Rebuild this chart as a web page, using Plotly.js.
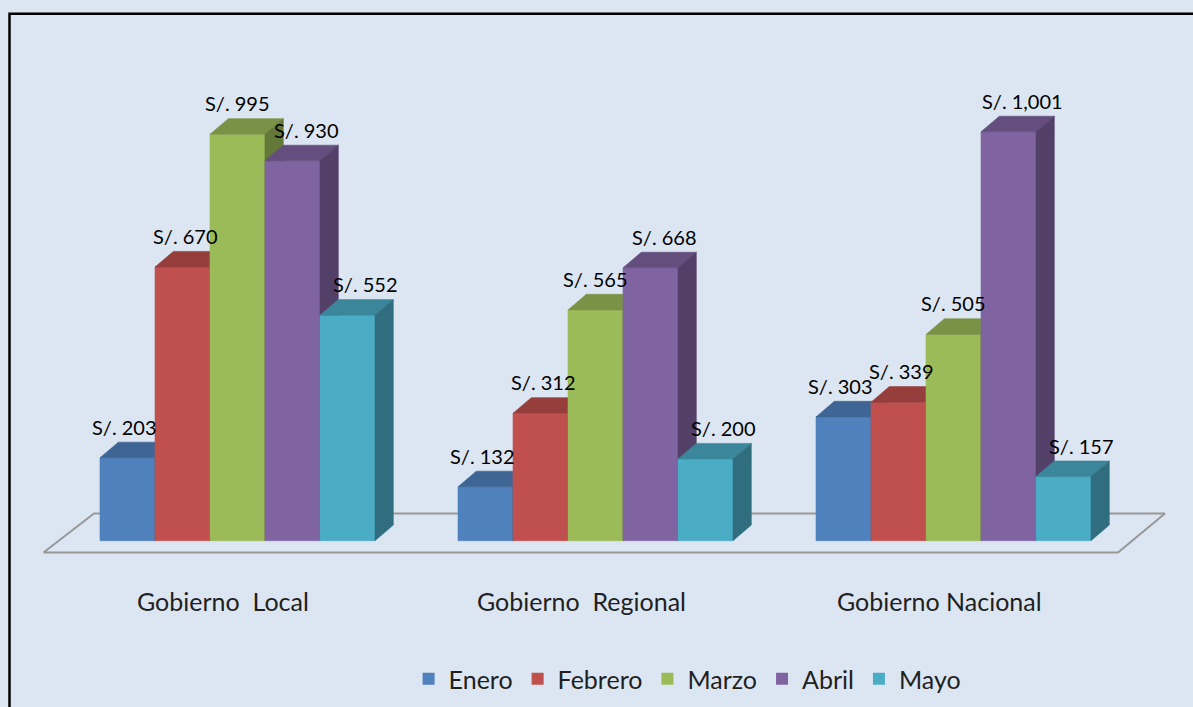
<!DOCTYPE html>
<html>
<head>
<meta charset="utf-8">
<script src="https://cdn.plot.ly/plotly-3.0.1.min.js"></script>
<style>html,body{margin:0;padding:0;background:#DCE6F2;}#chart{width:1193px;height:707px;}</style>
</head>
<body>
<div id="chart"></div>
<script>
// ---- data ----
const categories = ["Gobierno  Local", "Gobierno  Regional", "Gobierno Nacional"];
const months = ["Enero", "Febrero", "Marzo", "Abril", "Mayo"];
const enero   = [203, 132, 303];
const febrero = [670, 312, 339];
const marzo   = [995, 565, 505];
const abril   = [930, 668, 1001];
const mayo    = [552, 200, 157];
const series = [enero, febrero, marzo, abril, mayo];

// ---- style ----
const colors = ["#4F81BD", "#C0504D", "#9BBB59", "#8064A2", "#4BACC6"];
const W = 1193, H = 707;
const pxPerCat = 358;          // px between category centres
const pxPerVal = 0.4085;       // px per value unit
const x0px = 237.5, y0px = 540.7;
const xr = [-x0px / pxPerCat, (W - x0px) / pxPerCat];
const yr = [(y0px - H) / pxPerVal, y0px / pxPerVal];
const barW = 55 / pxPerCat;
const DX = 18.3 / pxPerCat, DY = 15.6 / pxPerVal;
const labelShiftPx = [-3, 3, 0, 14, 18];
const labelRisePx = 31;

function shade(hex, f) {
  const n = parseInt(hex.slice(1), 16);
  const r = Math.round(((n >> 16) & 255) * f), g = Math.round(((n >> 8) & 255) * f), b = Math.round((n & 255) * f);
  return `rgb(${r},${g},${b})`;
}
function fmt(v) { return "S/. " + String(v).replace(/\B(?=(\d{3})+(?!\d))/g, ","); }

const traces = [];
const annotations = [];

// floor (drawn first)
const pyToV = py => (y0px - py) / pxPerVal;
const pxToX = px => (px - x0px) / pxPerCat;
traces.push({
  type: "scatter", mode: "lines", hoverinfo: "skip", showlegend: false,
  x: [pxToX(43.5), pxToX(1118), pxToX(1165), pxToX(94), pxToX(43.5)],
  y: [pyToV(552.5), pyToV(552.5), pyToV(513.5), pyToV(513.5), pyToV(552.5)],
  line: { color: "#989898", width: 2 }
});

function poly(xs, ys, color) {
  traces.push({
    type: "scatter", mode: "lines", fill: "toself", fillcolor: color,
    line: { color: color, width: 0.6 }, hoverinfo: "skip", showlegend: false,
    x: xs.concat([xs[0]]), y: ys.concat([ys[0]])
  });
}

categories.forEach((cat, i) => {
  series.forEach((vals, j) => {
    const v = vals[i];
    const a = i - 2.5 * barW + j * barW, b = a + barW;
    const c = colors[j];
    poly([a, b, b, a], [0, 0, v, v], c);                                   // front
    poly([a, a + DX, b + DX, b], [v, v + DY, v + DY, v], shade(c, 0.78));  // top
    poly([b, b, b + DX, b + DX], [0, v, v + DY, DY], shade(c, 0.64));      // side
    annotations.push({
      x: (a + b) / 2 + labelShiftPx[j] / pxPerCat, y: v + labelRisePx / pxPerVal,
      text: fmt(v), showarrow: false, xanchor: "center", yanchor: "middle",
      font: { family: "Lato, sans-serif", size: 20, color: "#000" }
    });
  });
  annotations.push({
    x: i - 14.5 / pxPerCat, y: pyToV(601), text: cat, showarrow: false,
    xanchor: "center", yanchor: "middle",
    font: { family: "Lato, sans-serif", size: 25, color: "#1f1f1f" }
  });
});

// legend entries
months.forEach((m, j) => {
  traces.push({ type: "bar", name: m, x: [-5], y: [1], marker: { color: colors[j] }, showlegend: true, hoverinfo: "skip" });
});

const layout = {
  width: W, height: H,
  margin: { l: 0, r: 0, t: 0, b: 0 },
  paper_bgcolor: "#DCE6F2", plot_bgcolor: "#DCE6F2",
  xaxis: { range: xr, visible: false, fixedrange: true },
  yaxis: { range: yr, visible: false, fixedrange: true },
  showlegend: true,
  legend: {
    orientation: "h", x: 0.3425, xanchor: "left", y: 1 - 679 / H, yanchor: "middle",
    bgcolor: "rgba(0,0,0,0)", font: { family: "Lato, sans-serif", size: 25, color: "#1f1f1f" },
    traceorder: "normal"
  },
  annotations: annotations,
  shapes: [{
    type: "rect", xref: "paper", yref: "paper",
    x0: 9.5 / W, x1: 1.2, y0: -0.2, y1: 1 - 13.8 / H,
    line: { color: "#000", width: 2.5 }, fillcolor: "rgba(0,0,0,0)"
  }]
};

Plotly.newPlot("chart", traces, layout, { staticPlot: true, displayModeBar: false });
</script>
</body>
</html>
